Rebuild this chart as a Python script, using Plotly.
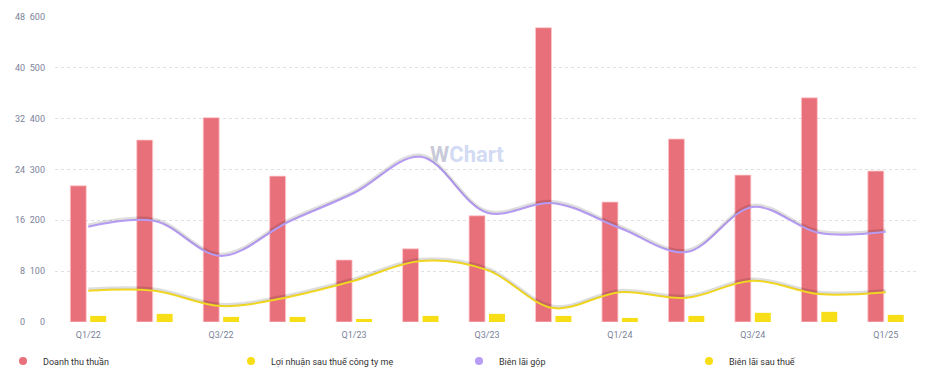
import plotly.graph_objects as go

quarters = ["Q1/22", "Q2/22", "Q3/22", "Q4/22", "Q1/23", "Q2/23", "Q3/23", "Q4/23",
            "Q1/24", "Q2/24", "Q3/24", "Q4/24", "Q1/25"]
tick_labels = ["Q1/22", "Q3/22", "Q1/23", "Q3/23", "Q1/24", "Q3/24", "Q1/25"]
revenue = [268, 358, 402, 287, 122, 144, 209, 579, 236, 360, 289, 441, 297]
net_profit = [12, 16, 10, 10, 6, 12, 16, 12, 8, 12, 18, 20, 14]
gross_margin = [15.0, 15.9, 10.4, 15.7, 20.3, 26.0, 17.2, 18.7, 14.8, 11.0, 18.1, 14.0, 14.2]
net_margin = [4.9, 4.9, 2.5, 3.9, 6.5, 9.6, 8.2, 2.2, 4.7, 3.8, 6.5, 4.4, 4.7]

names = ["Doanh thu thuần", "Lợi nhuận sau thuế công ty mẹ", "Biên lãi gộp", "Biên lãi sau thuế"]
RED = "#E8707A"
YEL = "#F7DE16"
PUR = "#B79DF6"
YEL2 = "#F2D823"

W, H = 931, 377  # page body has an 8px margin
FONT = "Roboto, Inter, sans-serif"

fig = go.Figure()
fig.add_trace(go.Bar(x=quarters, y=revenue, marker=dict(color=RED, line=dict(color="rgba(255,200,205,0.8)", width=1)),
                     showlegend=False, yaxis="y"))
fig.add_trace(go.Bar(x=quarters, y=net_profit, marker=dict(color=YEL, line=dict(width=0)),
                     showlegend=False, yaxis="y"))
# soft shadows under the lines
for ys in (gross_margin, net_margin):
    fig.add_trace(go.Scatter(x=quarters, y=ys, mode="lines",
                             line=dict(color="rgba(0,0,0,0.13)", width=2.5, shape="spline", smoothing=1),
                             showlegend=False, hoverinfo="skip", yaxis="y4"))
fig.add_trace(go.Scatter(x=quarters, y=gross_margin, mode="lines", line=dict(color=PUR, width=2, shape="spline", smoothing=1),
                         showlegend=False, yaxis="y2"))
fig.add_trace(go.Scatter(x=quarters, y=net_margin, mode="lines", line=dict(color=YEL2, width=2, shape="spline", smoothing=1),
                         showlegend=False, yaxis="y2"))
# legend entries, one legend each
legend_ids = ["legend", "legend2", "legend3", "legend4"]
for nm, col, lg in zip(names, [RED, YEL, PUR, YEL], legend_ids):
    fig.add_trace(go.Scatter(x=[None], y=[None], mode="markers", name=nm, legend=lg,
                             marker=dict(color=col, size=8, symbol="circle"), yaxis="y"))

tickfont = dict(family=FONT, size=9, color="#7b8299")
off = 2 * 48 / 305
legend_left_px = [10, 238, 466, 696]
leg_common = dict(orientation="h", xref="container", yref="container", xanchor="left",
                  y=1 - 353 / H, yanchor="middle", font=dict(family=FONT, size=9, color="#333"),
                  bgcolor="rgba(0,0,0,0)", indentation=-15)
legends = {}
for lg, px in zip(legend_ids, legend_left_px):
    legends[lg] = dict(leg_common, x=px / W)

fig.update_layout(
    width=W, height=H,
    margin=dict(l=47, r=20, t=9, b=63, autoexpand=False),
    paper_bgcolor="white", plot_bgcolor="white",
    barmode="group", bargap=0.4, bargroupgap=0.2,
    font=dict(family=FONT, size=9, color="#333"),
    xaxis=dict(type="category", tickvals=tick_labels, ticktext=tick_labels, tickfont=tickfont,
               showgrid=False, showline=False, ticks="", zeroline=False, automargin=False,
               ticklabelstandoff=6),
    yaxis=dict(range=[0, 600], tickvals=[0, 100, 200, 300, 400, 500, 600], tickfont=tickfont,
               showgrid=True, gridcolor="#dde0e5", griddash="dot", gridwidth=1, zeroline=False, ticks="",
               ticklabelstandoff=9, automargin=False),
    yaxis2=dict(range=[0, 48], tickvals=[0, 8, 16, 24, 32, 40, 48], tickfont=tickfont, overlaying="y",
                side="left", anchor="free", position=0, shift=-30, showgrid=False, zeroline=False, ticks="",
                automargin=False),
    yaxis4=dict(range=[-off, 48 - off], overlaying="y", visible=False),
    annotations=[
        dict(text="<b><span style='color:#c9cad9'>W</span>Chart</b>", xref="paper", yref="paper",
             x=0.477, y=0.548, showarrow=False, font=dict(size=22, color="#d2dbf3", family=FONT)),
    ],
    **legends,
)

fig.write_html("out.html")
